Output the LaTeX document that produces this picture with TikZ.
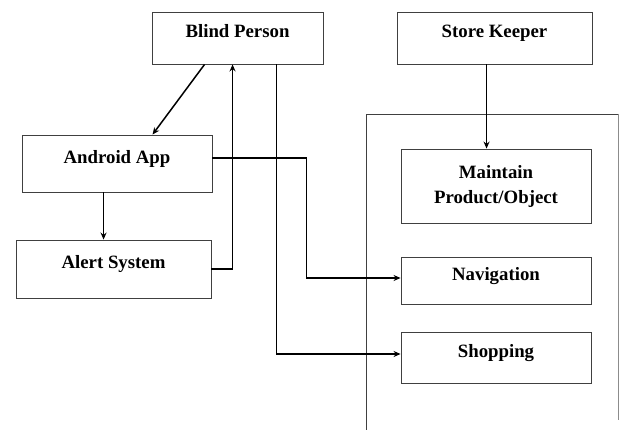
\documentclass[tikz,border=0pt]{standalone}
\usepackage{fontspec}
\setmainfont{Liberation Serif}
\usetikzlibrary{arrows.meta}
\begin{document}
\begin{tikzpicture}[x=1pt,y=-1pt,
  box/.style={draw=black!75,line width=0.9pt,rectangle,inner sep=0pt,
    minimum width=#1,font=\fontsize{18.8}{27}\selectfont\bfseries,align=center},
  conn/.style={line width=1.5pt,black,-{Stealth[length=7pt,width=6pt]}},
  plain/.style={line width=1.5pt,black}]
\useasboundingbox (0,0) rectangle (619,430);
% frame
\draw[black!75,line width=0.9pt] (366,430) -- (366,114) -- (618,114);
\draw[black!45,line width=0.9pt] (618,114) -- (618,420);
% nodes
\node[box=171,text height=26pt,text depth=26pt] (bp) at (237.5,38) {Blind Person};
\node[box=195,text height=26pt,text depth=26pt] (sk) at (494.5,38) {Store Keeper};
\node[box=190,text height=28.5pt,text depth=28.5pt] (aa) at (117,163.5) {Android App};
\node[box=195,text height=29pt,text depth=29pt] (as) at (113.5,269) {Alert System};
\node[box=190,minimum height=74pt] (mp) at (496,186) {Maintain\\[-2pt]Product/Object};
\node[box=190,text height=23.5pt,text depth=23.5pt] (nv) at (496,280.5) {Navigation};
\node[box=190,text height=25.5pt,text depth=25.5pt] (sh) at (496,357.5) {Shopping};
% connectors
\draw[conn] ([xshift=53pt]bp.south west) -- ([xshift=131pt]aa.north west);
\draw[conn] ([xshift=82pt]aa.south west) -- ([xshift=88pt]as.north west);
\draw[conn] (as.east) -| ([xshift=81pt]bp.south west);
\draw[conn] ([xshift=125pt]bp.south west) |- ([yshift=3.5pt]sh.west);
\draw[conn] ([yshift=5.5pt]aa.east) -- ++(94,0) |- ([yshift=2.5pt]nv.west);
\draw[conn] ([xshift=90pt]sk.south west) -- ([xshift=86pt]mp.north west);
\end{tikzpicture}
\end{document}
